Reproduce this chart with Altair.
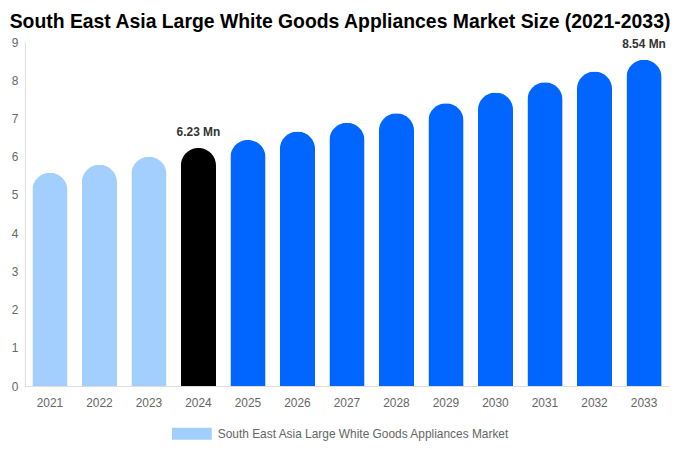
import altair as alt
import pandas as pd

years = [str(y) for y in range(2021, 2034)]
values = [5.58, 5.79, 6.00, 6.23, 6.44, 6.66, 6.89, 7.14, 7.40, 7.68, 7.95, 8.23, 8.54]
bar_colors = ["#a2cffe"] * 3 + ["#000000"] + ["#0066ff"] * 9
labels = ["", "", "", "6.23 Mn", "", "", "", "", "", "", "", "", "8.54 Mn"]
series_name = "South East Asia Large White Goods Appliances Market"
title_text = "South East Asia Large White Goods Appliances Market Size (2021-2033)"

df = pd.DataFrame({
    "year": years,
    "value": values,
    "barcolor": bar_colors,
    "label": labels,
    "series": [series_name] * len(years),
})

FONT = "Liberation Sans"

x_enc = alt.X(
    "year:N",
    title=None,
    scale=alt.Scale(paddingInner=0.29, paddingOuter=0.15),
    axis=alt.Axis(labelAngle=0, ticks=False, domainColor="#dddddd", labelColor="#666666",
                  labelFontSize=12, labelFont=FONT, labelPadding=12),
)
y_enc = alt.Y(
    "value:Q",
    title=None,
    scale=alt.Scale(domain=[0, 9], nice=False),
    axis=alt.Axis(values=list(range(0, 10)), ticks=False, grid=False, domainColor="#dddddd",
                  labelColor="#666666", labelFontSize=12, labelFont=FONT, labelPadding=7),
)

base = alt.Chart(df).encode(x=x_enc, y=y_enc)

bars = base.mark_bar(cornerRadiusTopLeft=18, cornerRadiusTopRight=18).encode(
    fill=alt.Fill("barcolor:N", scale=None)
)

legend_layer = base.mark_square(size=0, opacity=1).encode(
    color=alt.Color(
        "series:N",
        scale=alt.Scale(range=["#a2cffe"]),
        legend=alt.Legend(
            title=None,
            orient="none",
            legendX=148,
            legendY=374,
            direction="horizontal",
            symbolType="M-1,-0.3L1,-0.3L1,0.3L-1,0.3Z",
            symbolSize=1600,
            symbolOpacity=1,
            symbolStrokeWidth=0,
            labelFontSize=12,
            labelColor="#666666",
            labelFont=FONT,
            labelLimit=500,
            labelOffset=6,
        ),
    )
)

text = base.mark_text(baseline="bottom", dy=-9, fontSize=12, fontWeight="bold",
                      color="#333333", font=FONT).encode(text="label:N")

chart = alt.layer(bars, legend_layer, text).properties(
    width=648,
    height=346,
    padding={"left": 0, "right": 0, "top": 2, "bottom": 0},
    title=alt.TitleParams(title_text, fontSize=19.5, fontWeight="bold", font=FONT,
                          color="#000000", anchor="middle", offset=4, dx=-7),
).configure_view(stroke=None)

chart.save("out.html", embed_options={"renderer": "svg", "actions": False})
